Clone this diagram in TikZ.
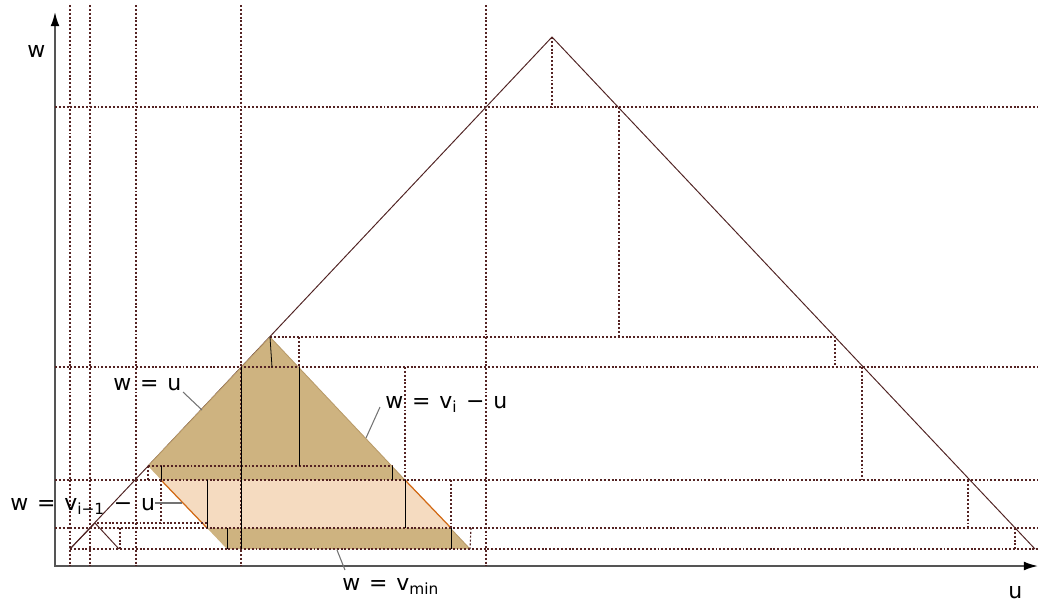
\documentclass[tikz,border=0pt]{standalone}
\usepackage{fontspec}
\setmainfont{DejaVu Sans}
\usetikzlibrary{arrows.meta}

\definecolor{tanfill}{RGB}{206,179,128}
\definecolor{tanedge}{RGB}{185,155,105}
\definecolor{peach}{RGB}{245,219,192}
\definecolor{rust}{RGB}{210,105,20}
\definecolor{dotbrown}{RGB}{85,35,35}
\definecolor{edgebrown}{RGB}{80,35,35}
\definecolor{leadgray}{RGB}{115,115,115}
\definecolor{axisgray}{RGB}{85,85,85}

\tikzset{
  grid dot/.style={dotbrown, line width=0.65pt, dash pattern=on 1.1pt off 1.1pt},
  tri edge/.style={edgebrown, line width=0.55pt},
  cut/.style={black, line width=0.45pt},
  leader/.style={leadgray, line width=0.6pt},
  lbl/.style={anchor=base west, inner sep=0pt, font=\fontsize{12.5}{15}\selectfont},
}
\newcommand{\eqs}{\hspace{.4em}=\hspace{.4em}}
\newcommand{\mns}{\hspace{.4em}−\hspace{.4em}}

\begin{document}
\begin{tikzpicture}[x=0.02cm,y=-0.02cm]

    \useasboundingbox (0,0) rectangle (1038,602);

    %%%%%%%%%%%%%%%%%%
    %%%%% Axes %%%%%%%
    %%%%%%%%%%%%%%%%%%
    \draw[axisgray, line width=1pt, {Latex[length=8pt,width=5pt,black]}-{Latex[length=8pt,width=5pt,black]}]
        (55,12) |- (1038,566);

    %%%%%%%%%%%%%%%%%%
    %%%%% Points %%%%%
    %%%%%%%%%%%%%%%%%%
    \coordinate (O) at (70,549);    % w = u meets w = v_min
    \coordinate (T) at (552,37);    % top of the big triangle
    \coordinate (R) at (1035,549);
    \coordinate (A) at (270,337);   % top of the shaded triangle
    \coordinate (B) at (148,466);   % w = u meets w = v_{i-1} - u
    \coordinate (C) at (470,549);
    \coordinate (D) at (227,549);
    \coordinate (P1) at (161,480);
    \coordinate (P2) at (405,480);
    \coordinate (P3) at (451,528);
    \coordinate (P4) at (207,528);

    % Big triangle
    \draw[tri edge] (O) -- (T) -- (R);

    % Shaded region between w = v_{i-1} - u and w = v_i - u
    \fill[tanfill] (B) -- (A) -- (C) -- (D) -- cycle;
    \draw[tanedge, line width=0.5pt] (B) -- (A) -- (C);
    \fill[peach] (P1) -- (P2) -- (P3) -- (P4) -- cycle;
    \draw[rust, line width=0.7pt] (P1) -- (P4);
    \draw[rust, line width=0.7pt] (P2) -- (P3);

    %%%%%%%%%%%%%%%%%%
    %%%%% Grid %%%%%%%
    %%%%%%%%%%%%%%%%%%

    % Full lines
    \foreach \u in {70,90,136,241,486}
        \draw[grid dot] (\u,5) -- (\u,566);
    \foreach \w in {107,367,480,528}
        \draw[grid dot] (55,\w) -- (1038,\w);
    \draw[grid dot] (O) -- (1038,549);

    % Steps under the big triangle
    \draw[grid dot] (T) -- (552,107);
    \draw[grid dot] (619,107) -- (619,337);
    \draw[grid dot] (A) -- (835,337) -- (835,367);
    \draw[grid dot] (862,367) -- (862,480);
    \draw[grid dot] (968,480) -- (968,528);
    \draw[grid dot] (1015,528) -- (1015,549);

    % Steps under the shaded triangle
    \draw[grid dot] (299,337) -- (299,367);
    \draw[grid dot] (B) -- (392,466);
    \draw[grid dot] (405,367) -- (P2);
    \draw[grid dot] (451,480) -- (P3);
    \draw[grid dot] (471,528) -- (C);

    % Steps on the left
    \draw[grid dot] (B) -- (148,480);
    \draw[grid dot] (P1) -- (161,523);
    \draw[grid dot] (97,523) -- (207,523);
    \draw[grid dot] (120,528) -- (120,549);

    %%%%%%%%%%%%%%%%%%
    %%%%% Cuts %%%%%%%
    %%%%%%%%%%%%%%%%%%
    \draw[cut] (A) -- (272,367);
    \draw[cut] (241,367) -- (241,549);
    \draw[cut] (299,367) -- (299,466);
    \draw[cut] (161,466) -- (P1);
    \draw[cut] (392,466) -- (392,480);
    \draw[cut] (207,480) -- (P4);
    \draw[cut] (P2) -- (405,528);
    \draw[cut] (227,528) -- (227,549);
    \draw[cut] (P3) -- (451,549);

    % Small triangle
    \draw[tri edge] (O) -- (95,523) -- (119,549);

    %%%%%%%%%%%%%%%%%%
    %%%%% Labels %%%%%
    %%%%%%%%%%%%%%%%%%
    \node[lbl] (lw) at (27,57) {w};
    \node[lbl] (lu) at (1008,598) {u};
    \node[lbl] (lwu) at (113,390) {w\eqs u};
    \node[lbl] (lvi) at (385,408) {w\eqs v\textsubscript{i}\mns u};
    \node[lbl] (lvprev) at (10,510) {w\eqs v\textsubscript{i−1}\mns u};
    \node[lbl] (lvmin) at (342,590) {w\eqs v\textsubscript{min}};

    \coordinate (kwu) at (202,410);
    \coordinate (kvi) at (366,438);
    \coordinate (kvprev) at (182,503);
    \coordinate (kvmin) at (337,550);
    \draw[leader] (183,392) -- (kwu);
    \draw[leader] (380,407) -- (kvi);
    \draw[leader] (155,503) -- (kvprev);
    \draw[leader] (345,570) -- (kvmin);

\end{tikzpicture}
\end{document}
